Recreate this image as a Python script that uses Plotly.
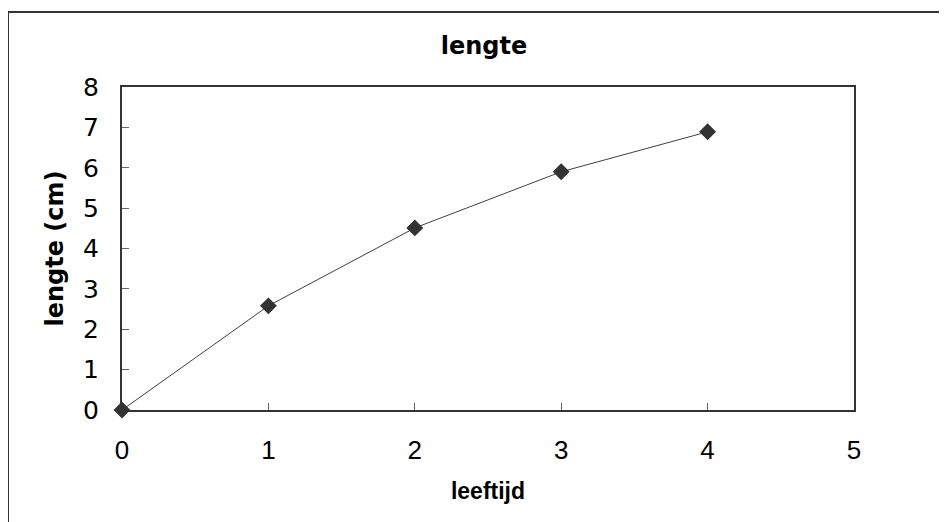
import plotly.graph_objects as go

leeftijd = [0, 1, 2, 3, 4]
lengte = [0, 2.58, 4.51, 5.9, 6.89]
x_ticks = [0, 1, 2, 3, 4, 5]
y_ticks = [0, 1, 2, 3, 4, 5, 6, 7, 8]

OFF = 8  # page body margin
W, H = 947 - OFF, 522 - OFF
L, R, T, B = 122 - OFF, 93, 87 - OFF, 112
pw, ph = W - L - R, H - T - B

fig = go.Figure()
fig.add_trace(go.Scatter(
    x=leeftijd, y=lengte, mode="lines+markers",
    line=dict(color="#404040", width=1),
    marker=dict(symbol="diamond", size=13, color="#333333"),
    showlegend=False, cliponaxis=False,
))

narrow = "Liberation Sans Narrow, Liberation Sans, sans-serif"
fig.update_layout(
    width=W, height=H,
    margin=dict(l=L, r=R, t=T, b=B),
    paper_bgcolor="white", plot_bgcolor="white",
    title=dict(text="<b>lengte</b>", x=(484 - OFF - L) / pw, xref="paper", xanchor="center",
               y=1 - (46 - OFF) / H, yanchor="middle",
               font=dict(family="DejaVu Sans", size=24, color="black")),
    xaxis=dict(range=[0, 5], tickvals=x_ticks, ticks="inside", ticklen=7,
               tickcolor="#666666", tickwidth=1,
               showline=True, linecolor="#333333", linewidth=2, mirror=True,
               showgrid=False, zeroline=False, ticklabelstandoff=16,
               tickfont=dict(family=narrow, size=26, color="black"),
               title=dict(text="<b>leeftijd</b>", standoff=19,
                          font=dict(family=narrow, size=23, color="black"))),
    yaxis=dict(range=[0, 8], tickvals=y_ticks, ticks="inside", ticklen=7,
               tickcolor="#666666", tickwidth=1,
               showline=True, linecolor="#333333", linewidth=2, mirror=True,
               showgrid=False, zeroline=False, ticklabelstandoff=16,
               tickfont=dict(family="DejaVu Sans", size=25, color="black"),
               title=dict(text="<b>lengte (cm)</b>", standoff=13,
                          font=dict(family="DejaVu Sans", size=24, color="black"))),
)

# outer chart border (extends beyond right and bottom of the image)
bx0, by0 = 8 - OFF, 12 - OFF
fig.add_shape(type="rect", xref="paper", yref="paper",
              x0=(bx0 - L) / pw, x1=(W + 10 - L) / pw,
              y0=(T + ph - (H + 10)) / ph, y1=(T + ph - by0) / ph,
              line=dict(color="#333333", width=2), layer="below")

fig.write_html("out.html")
